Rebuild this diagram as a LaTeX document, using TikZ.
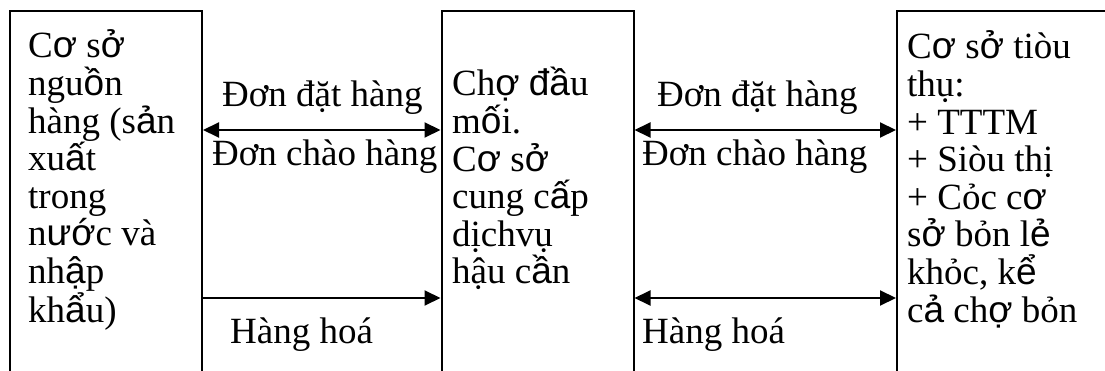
\documentclass[tikz,border=0pt]{standalone}
\usepackage{fontspec}
\setmainfont{Liberation Serif}
\newfontfamily\arl{Liberation Sans}
% glyphs that fall back to the sans face
\newcommand\sv[1]{{\arl #1}}
\usetikzlibrary{arrows.meta}

\begin{document}
\begin{tikzpicture}[x=1pt,y=-1pt,
  boxw/.style={draw,line width=2pt,anchor=north west,inner sep=0pt,
    minimum width=#1,minimum height=420pt},
  txt/.style={anchor=base west,inner sep=0pt,
    font=\fontsize{37}{37.6}\selectfont},
  lbl/.style={anchor=base west,inner sep=0pt,
    font=\fontsize{37}{37.6}\selectfont},
  link/.style={line width=2pt},
  tip/.tip={Triangle[length=16pt,width=15pt]}
]
\clip (0,0) rectangle (1105,371);

% the three blocks (they run on below and to the right)
\node[boxw=192pt] (src) at (9,10) {};
\node[boxw=192pt] (hub) at (440.5,10) {};
\node[boxw=320pt] (dst) at (896,10) {};

% block texts
\node[txt] (srct) at (28,58) {\parbox[t]{170pt}{\raggedright
  C\sv{ơ} s\sv{ở}\\ ngu\sv{ồ}n\\ hàng (s\sv{ả}n\\ xu\sv{ấ}t\\ trong\\
  n\sv{ướ}c và\\ nh\sv{ậ}p\\ kh\sv{ẩ}u)}};
\node[txt] (hubt) at (452,96) {\parbox[t]{175pt}{\raggedright
  Ch\sv{ợ} \sv{đầ}u\\ m\sv{ố}i.\\ C\sv{ơ} s\sv{ở}\\ cung c\sv{ấ}p\\
  dịchvụ\\ hậu c\sv{ầ}n}};
\node[txt] (dstt) at (907,59) {\parbox[t]{190pt}{\raggedright
  C\sv{ơ} s\sv{ở} tiòu\\ thụ:\\ + TTTM\\ + Siòu thị\\ + Cỏc c\sv{ơ}\\
  s\sv{ở} bỏn l\sv{ẻ}\\ khỏc, k\sv{ể}\\ c\sv{ả} ch\sv{ợ} bỏn}};

% connector levels
\coordinate (hi) at (0,130);
\coordinate (lo) at (0,298);

\draw[link,tip-tip] (src.east |- hi) -- (hub.west |- hi);
\draw[link,-tip] (src.east |- lo) -- (hub.west |- lo);
\draw[link,tip-tip] (hub.east |- hi) -- (dst.west |- hi);
\draw[link,tip-tip] (hub.east |- lo) -- (dst.west |- lo);

% connector labels
\node[lbl] (ordL) at (222,107) {Đơn đặt hàng};
\node[lbl] (offL) at (212,166) {Đơn chào hàng};
\node[lbl] (gdsL) at (230,343) {Hàng hoá};
\node[lbl] (ordR) at (657,107) {Đơn đặt hàng};
\node[lbl] (offR) at (642,166) {Đơn chào hàng};
\node[lbl] (gdsR) at (642,343) {Hàng hoá};
\end{tikzpicture}
\end{document}
